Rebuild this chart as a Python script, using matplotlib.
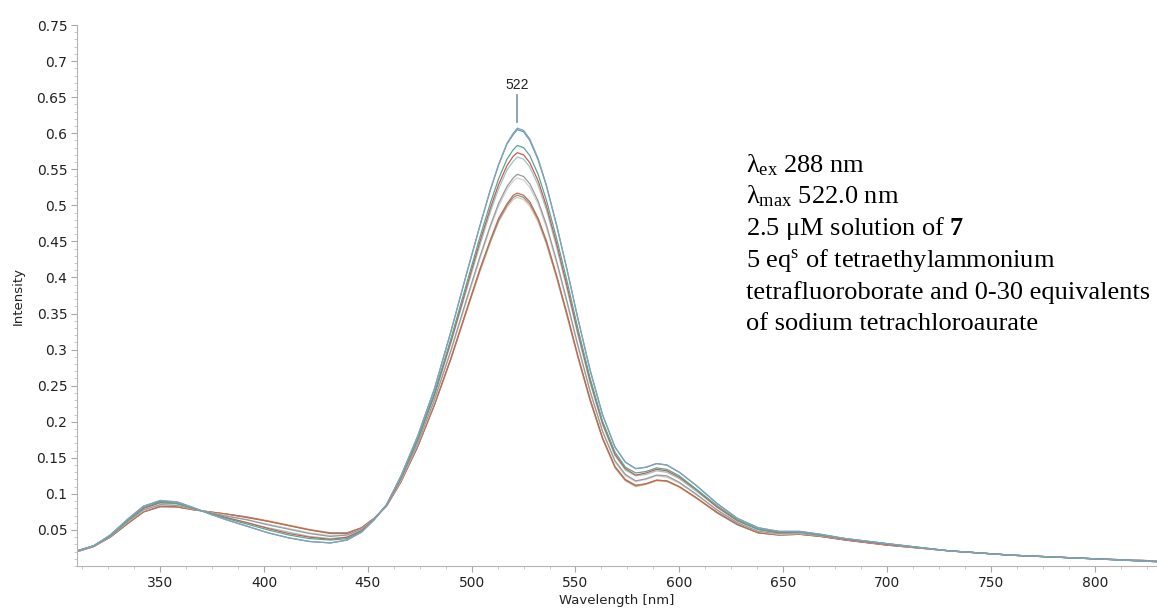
import numpy as np
import matplotlib
matplotlib.use("Agg")
from matplotlib import pyplot as plt
from matplotlib.ticker import MultipleLocator, FixedLocator, FormatStrFormatter

plt.rcParams['mathtext.fontset'] = 'custom'
plt.rcParams['mathtext.rm'] = 'Liberation Serif'
plt.rcParams['mathtext.it'] = 'Liberation Serif:italic'
plt.rcParams['mathtext.bf'] = 'Liberation Serif:bold'

# wavelength grid (nm)
wavelength = [310, 318, 326, 334, 342, 350, 358, 366, 374, 382, 392, 402, 412, 422, 432, 440,
              447, 453, 459, 466, 474, 482, 490, 498, 504, 509, 513, 517, 520, 522, 525, 528,
              532, 536, 541, 546, 551, 557, 563, 569, 574, 579, 584, 589, 594, 600, 608, 618,
              628, 638, 648, 658, 668, 680, 700, 730, 760, 800, 830]

# spectra, from the highest to the lowest maximum at 522 nm
spec_a = [0.021, 0.028, 0.043, 0.064, 0.083, 0.091, 0.089, 0.081, 0.072, 0.064, 0.055, 0.046, 0.039, 0.034, 0.032, 0.036,
          0.047, 0.064, 0.085, 0.125, 0.180, 0.245, 0.325, 0.410, 0.472, 0.522, 0.557, 0.586, 0.600, 0.607, 0.604, 0.592,
          0.565, 0.528, 0.472, 0.410, 0.345, 0.272, 0.210, 0.165, 0.144, 0.135, 0.137, 0.142, 0.140, 0.130, 0.112, 0.087,
          0.066, 0.053, 0.048, 0.048, 0.044, 0.038, 0.031, 0.021, 0.015, 0.010, 0.006]
spec_b = [0.021, 0.028, 0.043, 0.064, 0.083, 0.090, 0.089, 0.081, 0.072, 0.064, 0.055, 0.046, 0.039, 0.034, 0.032, 0.036,
          0.047, 0.064, 0.085, 0.125, 0.180, 0.245, 0.325, 0.410, 0.472, 0.521, 0.556, 0.585, 0.598, 0.605, 0.602, 0.590,
          0.563, 0.527, 0.471, 0.410, 0.345, 0.272, 0.210, 0.165, 0.144, 0.135, 0.137, 0.142, 0.140, 0.130, 0.112, 0.087,
          0.066, 0.053, 0.048, 0.048, 0.044, 0.038, 0.031, 0.021, 0.015, 0.010, 0.006]
spec_c = [0.021, 0.028, 0.042, 0.062, 0.081, 0.089, 0.087, 0.080, 0.073, 0.066, 0.058, 0.050, 0.043, 0.038, 0.036, 0.038,
          0.048, 0.064, 0.085, 0.123, 0.176, 0.239, 0.315, 0.396, 0.456, 0.503, 0.537, 0.564, 0.577, 0.583, 0.580, 0.569,
          0.543, 0.507, 0.453, 0.394, 0.331, 0.261, 0.201, 0.158, 0.137, 0.129, 0.131, 0.136, 0.134, 0.125, 0.107, 0.084,
          0.064, 0.051, 0.047, 0.047, 0.043, 0.038, 0.031, 0.021, 0.015, 0.010, 0.006]
spec_d = [0.021, 0.028, 0.042, 0.062, 0.080, 0.088, 0.087, 0.080, 0.073, 0.067, 0.060, 0.052, 0.045, 0.040, 0.037, 0.040,
          0.049, 0.065, 0.084, 0.122, 0.175, 0.237, 0.311, 0.391, 0.450, 0.496, 0.529, 0.555, 0.568, 0.573, 0.570, 0.559,
          0.534, 0.499, 0.446, 0.387, 0.326, 0.257, 0.198, 0.155, 0.135, 0.126, 0.129, 0.134, 0.132, 0.123, 0.106, 0.082,
          0.063, 0.051, 0.046, 0.047, 0.043, 0.037, 0.030, 0.021, 0.015, 0.010, 0.006]
spec_e = [0.021, 0.028, 0.042, 0.061, 0.080, 0.087, 0.086, 0.080, 0.073, 0.067, 0.060, 0.053, 0.047, 0.041, 0.038, 0.040,
          0.050, 0.065, 0.084, 0.122, 0.174, 0.235, 0.309, 0.387, 0.445, 0.491, 0.523, 0.549, 0.561, 0.567, 0.564, 0.553,
          0.528, 0.494, 0.441, 0.383, 0.322, 0.254, 0.196, 0.153, 0.133, 0.125, 0.127, 0.132, 0.130, 0.121, 0.104, 0.082,
          0.062, 0.050, 0.046, 0.046, 0.043, 0.037, 0.030, 0.021, 0.015, 0.010, 0.006]
spec_f = [0.020, 0.027, 0.041, 0.060, 0.078, 0.085, 0.084, 0.079, 0.074, 0.069, 0.064, 0.057, 0.051, 0.045, 0.041, 0.043,
          0.051, 0.065, 0.084, 0.120, 0.170, 0.230, 0.299, 0.374, 0.429, 0.472, 0.503, 0.526, 0.538, 0.543, 0.540, 0.530,
          0.506, 0.473, 0.422, 0.366, 0.308, 0.243, 0.187, 0.146, 0.127, 0.118, 0.121, 0.126, 0.125, 0.116, 0.100, 0.078,
          0.060, 0.048, 0.045, 0.045, 0.042, 0.037, 0.030, 0.021, 0.015, 0.010, 0.007]
spec_g = [0.020, 0.027, 0.041, 0.060, 0.077, 0.085, 0.084, 0.079, 0.074, 0.070, 0.064, 0.058, 0.052, 0.046, 0.042, 0.043,
          0.051, 0.065, 0.084, 0.119, 0.169, 0.228, 0.297, 0.371, 0.426, 0.469, 0.499, 0.522, 0.534, 0.538, 0.535, 0.525,
          0.502, 0.469, 0.419, 0.363, 0.305, 0.241, 0.186, 0.144, 0.125, 0.117, 0.120, 0.125, 0.123, 0.115, 0.099, 0.078,
          0.060, 0.048, 0.044, 0.045, 0.042, 0.037, 0.030, 0.021, 0.015, 0.010, 0.007]
spec_h = [0.020, 0.027, 0.040, 0.058, 0.075, 0.083, 0.082, 0.078, 0.075, 0.072, 0.067, 0.062, 0.056, 0.050, 0.045, 0.045,
          0.053, 0.066, 0.083, 0.117, 0.166, 0.223, 0.288, 0.359, 0.412, 0.452, 0.482, 0.502, 0.514, 0.517, 0.514, 0.505,
          0.482, 0.451, 0.402, 0.349, 0.293, 0.232, 0.178, 0.138, 0.120, 0.112, 0.114, 0.119, 0.118, 0.110, 0.095, 0.075,
          0.058, 0.046, 0.043, 0.044, 0.041, 0.036, 0.029, 0.021, 0.015, 0.010, 0.007]
spec_i = [0.020, 0.027, 0.040, 0.058, 0.075, 0.082, 0.082, 0.078, 0.075, 0.072, 0.068, 0.062, 0.056, 0.050, 0.046, 0.046,
          0.053, 0.066, 0.083, 0.117, 0.165, 0.223, 0.287, 0.358, 0.410, 0.450, 0.479, 0.500, 0.511, 0.514, 0.511, 0.502,
          0.480, 0.448, 0.400, 0.347, 0.292, 0.230, 0.177, 0.137, 0.119, 0.111, 0.114, 0.119, 0.118, 0.110, 0.095, 0.074,
          0.057, 0.046, 0.043, 0.044, 0.041, 0.036, 0.029, 0.021, 0.015, 0.010, 0.007]
spec_j = [0.020, 0.027, 0.040, 0.058, 0.075, 0.082, 0.082, 0.078, 0.075, 0.072, 0.068, 0.063, 0.057, 0.051, 0.046, 0.046,
          0.053, 0.066, 0.083, 0.117, 0.165, 0.222, 0.286, 0.356, 0.408, 0.448, 0.477, 0.497, 0.508, 0.511, 0.508, 0.499,
          0.477, 0.446, 0.398, 0.345, 0.290, 0.229, 0.176, 0.136, 0.118, 0.110, 0.113, 0.118, 0.117, 0.109, 0.094, 0.074,
          0.057, 0.046, 0.043, 0.044, 0.041, 0.036, 0.029, 0.021, 0.015, 0.010, 0.007]

spectra = [spec_j, spec_i, spec_h, spec_g, spec_f, spec_e, spec_d, spec_c, spec_b, spec_a]
colors = ['#f2c592', '#7196bb', '#c86a44', '#d2d2d2', '#999999',
          '#93cbc3', '#cc5a55', '#5aa693', '#5a9fa0', '#86a2ba']

peak_wl = 522
peak_label = "522"

notes = [r"λ$_{\mathrm{ex}}$ 288 nm",
         r"λ$_{\mathrm{max}}$ 522.0 nm",
         r"2.5 μM solution of $\mathbf{7}$",
         r"5 eq$^{\mathrm{s}}$ of tetraethylammonium",
         "tetrafluoroborate and 0-30 equivalents",
         "of sodium tetrachloroaurate"]

fig = plt.figure(figsize=(11.57, 6.10), dpi=100)
ax = fig.add_axes([0.0666, 0.0721, 0.9334, 0.8869])

for spec, c in zip(spectra, colors):
    ax.plot(wavelength, spec, color=c, lw=0.9)

# peak marker
ax.plot([peak_wl, peak_wl], [0.615, 0.653], color='#8a9bb0', lw=1.3)
ax.text(peak_wl, 0.667, peak_label, ha='center', va='center', fontsize=10,
        family='Liberation Sans', color='#222222')

ax.set_xlim(310, 830)
ax.set_ylim(0, 0.75)

ax.xaxis.set_major_locator(MultipleLocator(50))
ax.xaxis.set_minor_locator(MultipleLocator(12.5))
ax.yaxis.set_major_locator(FixedLocator(np.arange(0.05, 0.751, 0.05)))
ax.yaxis.set_major_formatter(FormatStrFormatter('%g'))
ax.yaxis.set_minor_locator(MultipleLocator(0.01))

for s in ['top', 'right']:
    ax.spines[s].set_visible(False)
for s in ['left', 'bottom']:
    ax.spines[s].set_color('#b4b4b4')
ax.tick_params(which='major', length=4, width=0.8, color='#a8a8a8', labelsize=10,
               labelcolor='#222222', pad=3)
ax.tick_params(which='minor', length=2, width=0.6, color='#c0c0c0')

ax.set_xlabel('Wavelength [nm]', fontsize=9.5, color='#222222')
ax.set_ylabel('Intensity', fontsize=9.5, color='#222222')
ax.xaxis.set_label_coords(0.5, -0.052)
ax.yaxis.set_label_coords(-0.048, 0.5)

# annotation block
for i, line in enumerate(notes):
    fig.text(0.6448, 1 - (172 + i * 31.7) / 610, line, fontsize=19,
             family='Liberation Serif', va='baseline', ha='left', color='black')

fig.savefig('out.png', dpi=100)
